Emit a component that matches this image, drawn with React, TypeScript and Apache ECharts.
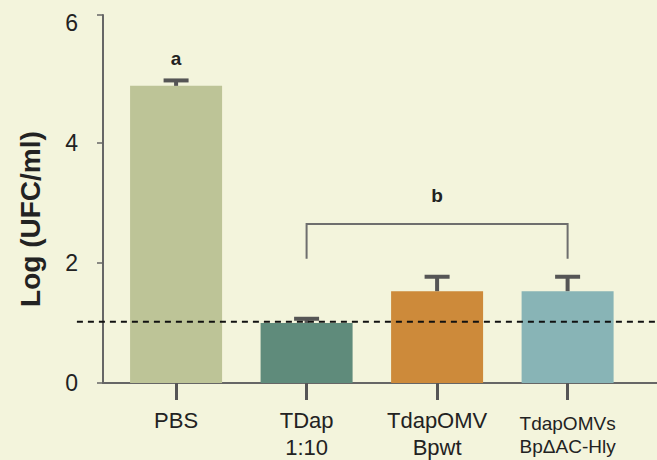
import React, { useEffect, useRef } from "react";
import * as echarts from "echarts";

const categories = ["PBS", "TDap\n1:10", "TdapOMV\nBpwt", "TdapOMVs\nBp\u0394AC-Hly"];
const means = [4.95, 1.0, 1.53, 1.53];
const upper = [5.04, 1.07, 1.77, 1.77];
const barColors = ["#BDC497", "#5F8B7B", "#CD8A3A", "#88B4B6"];
const yTicks = [0, 2, 4, 6];
const detectionLimit = 1.02;
const letterCats = [0, 2];
const letterYs = [5.4, 3.13];
const letterTexts = ["a", "b"];
const bracket = { from: 1, to: 3, low: 2.07, high: 2.65 };

export default function App() {
  const ref = useRef<HTMLDivElement>(null);
  useEffect(() => {
    const chart = echarts.init(ref.current!, null, { renderer: "svg" });
    const font = "Liberation Sans, Arial, sans-serif";
    const option: any = {
      animation: false,
      backgroundColor: "#F3F4DC",
      grid: { left: 103, right: 0, top: 15, bottom: 77 },
      xAxis: {
        type: "value",
        min: -0.56,
        max: 3.685,
        splitLine: { show: false },
        axisLine: { show: true, onZero: false, lineStyle: { color: "#666", width: 2 } },
        axisTick: {
          show: true,
          customValues: [0, 1, 2, 3],
          length: 17,
          lineStyle: { color: "#555", width: 3 },
        },
        axisLabel: {
          customValues: [0, 1, 2, 3],
          margin: 24,
          formatter: (v: number) => {
            const i = Math.round(v);
            const lines = categories[i].split("\n");
            const st = i === 3 ? "b" : "a";
            return lines.map((l) => `{${st}|${l}}`).join("\n");
          },
          rich: {
            a: { fontFamily: font, fontSize: 22, lineHeight: 27, color: "#222" },
            b: { fontFamily: font, fontSize: 19, lineHeight: 23, color: "#222", padding: [9, 0, 0, 0] },
          },
        },
      },
      yAxis: {
        type: "value",
        min: 0,
        max: 6.13,
        splitLine: { show: false },
        axisLine: { show: true, onZero: false, lineStyle: { color: "#666", width: 2 } },
        axisTick: {
          show: true,
          customValues: [0, 2, 4, 6.13],
          length: 6,
          lineStyle: { color: "#666", width: 1.5 },
        },
        axisLabel: {
          customValues: yTicks,
          margin: 25,
          fontFamily: font,
          fontSize: 23,
          color: "#222",
        },
      },
      graphic: [
        {
          type: "text",
          x: 30,
          y: 219,
          rotation: Math.PI / 2,
          style: {
            text: "Log (UFC/ml)",
            fontFamily: font,
            fontWeight: "bold",
            fontSize: 28,
            fill: "#222",
            align: "center",
            verticalAlign: "middle",
          },
        },
      ],
      series: [
        {
          type: "bar",
          barWidth: 92,
          data: means.map((m, i) => ({ value: [i, m], itemStyle: { color: barColors[i] } })),
          z: 2,
        },
        {
          type: "custom",
          z: 3,
          data: means.map((m, i) => [i, m, upper[i]]),
          renderItem: (params: any, api: any) => {
            const x = api.value(0);
            const p0 = api.coord([x, api.value(1)]);
            const p1 = api.coord([x, api.value(2)]);
            const style = { stroke: "#555", lineWidth: 4 };
            return {
              type: "group",
              children: [
                { type: "line", shape: { x1: p0[0], y1: p0[1], x2: p1[0], y2: p1[1] }, style },
                { type: "line", shape: { x1: p1[0] - 12.5, y1: p1[1], x2: p1[0] + 12.5, y2: p1[1] }, style },
              ],
            };
          },
        },
        {
          type: "custom",
          clip: false,
          z: 4,
          data: [[-0.76, 3.685, detectionLimit]],
          renderItem: (params: any, api: any) => {
            const a = api.coord([api.value(0), api.value(2)]);
            const b = api.coord([api.value(1), api.value(2)]);
            return {
              type: "line",
              shape: { x1: a[0], y1: a[1], x2: b[0], y2: b[1] },
              style: { stroke: "#111", lineWidth: 2, lineDash: [6, 5] },
            };
          },
        },
        {
          type: "custom",
          z: 3,
          data: [[bracket.from, bracket.to, bracket.low, bracket.high]],
          renderItem: (params: any, api: any) => {
            const a = api.coord([api.value(0), api.value(2)]);
            const b = api.coord([api.value(0), api.value(3)]);
            const c = api.coord([api.value(1), api.value(3)]);
            const d = api.coord([api.value(1), api.value(2)]);
            return {
              type: "polyline",
              shape: { points: [a, b, c, d] },
              style: { stroke: "#6E6E6E", lineWidth: 2, fill: "none" },
            };
          },
        },
        {
          type: "custom",
          z: 5,
          data: letterCats.map((c, i) => [c, letterYs[i]]),
          renderItem: (params: any, api: any) => {
            const p = api.coord([api.value(0), api.value(1)]);
            return {
              type: "text",
              x: p[0],
              y: p[1],
              style: {
                text: letterTexts[params.dataIndex],
                fontFamily: font,
                fontWeight: "bold",
                fontSize: 19,
                fill: "#222",
                align: "center",
                verticalAlign: "middle",
              },
            };
          },
        },
      ],
    };
    chart.setOption(option);
    return () => chart.dispose();
  }, []);
  return (
    <div
      ref={ref}
      style={{ position: "fixed", left: 0, top: 0, width: 657, height: 460 }}
    />
  );
}
